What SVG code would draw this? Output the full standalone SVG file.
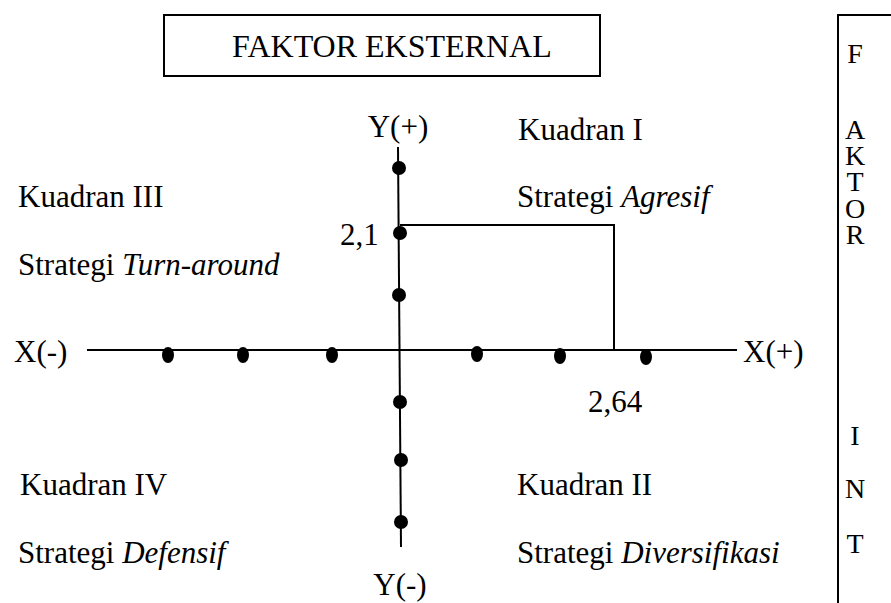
<svg xmlns="http://www.w3.org/2000/svg" width="891" height="603" viewBox="0 0 891 603">
<style>
text{font-family:"Liberation Serif",serif;font-size:31px;fill:#000}
.i{font-style:italic}
.t{font-size:32px}
.v{font-size:28px}
.ln{stroke:#000;stroke-width:2;fill:none}
.dot{fill:#000}
</style>
<rect width="891" height="603" fill="#fff"/>
<g id="ekstern">
<rect class="ln" x="164" y="15" width="436" height="61"/>
<text class="t" x="232" y="57">FAKTOR EKSTERNAL</text>
</g>
<g id="intern">
<path class="ln" d="M838,603 V15 H895"/>
<g text-anchor="middle">
<text class="v" x="855" y="63">F</text>
<text class="v" x="855" y="139">A</text>
<text class="v" x="855" y="165">K</text>
<text class="v" x="855" y="191">T</text>
<text class="v" x="855" y="218">O</text>
<text class="v" x="855" y="244">R</text>
<text class="v" x="855" y="445">I</text>
<text class="v" x="855" y="498">N</text>
<text class="v" x="855" y="553">T</text>
</g>
</g>
<g id="connectors">
<line class="ln" x1="87" y1="350" x2="737" y2="350"/>
<line class="ln" x1="398" y1="147" x2="401" y2="547"/>
<path class="ln" d="M400,225 H614 V350"/>
</g>
<g id="dots">
<circle class="dot" cx="399" cy="168" r="7"/>
<circle class="dot" cx="400" cy="233" r="7"/>
<circle class="dot" cx="399" cy="295" r="7"/>
<circle class="dot" cx="400" cy="402" r="7"/>
<circle class="dot" cx="401" cy="460" r="7"/>
<circle class="dot" cx="401" cy="522" r="7"/>
<ellipse class="dot" cx="168" cy="355" rx="6" ry="8"/>
<ellipse class="dot" cx="243" cy="355" rx="6" ry="8"/>
<ellipse class="dot" cx="332" cy="355" rx="6" ry="8"/>
<ellipse class="dot" cx="477" cy="354" rx="6" ry="8"/>
<ellipse class="dot" cx="560" cy="356" rx="6" ry="8"/>
<ellipse class="dot" cx="646" cy="357" rx="6" ry="8"/>
</g>
<g id="labels">
<text x="398" y="137" text-anchor="middle">Y(+)</text>
<text x="400" y="595" text-anchor="middle">Y(-)</text>
<text x="14" y="362">X(-)</text>
<text x="743" y="362">X(+)</text>
<text x="340" y="245">2,1</text>
<text x="588" y="412">2,64</text>
</g>
<g id="q1"><text x="518" y="140">Kuadran I</text><text x="517" y="207">Strategi <tspan class="i">Agresif</tspan></text></g>
<g id="q3"><text x="18" y="207">Kuadran III</text><text x="18" y="275">Strategi <tspan class="i">Turn-around</tspan></text></g>
<g id="q4"><text x="20" y="495">Kuadran IV</text><text x="18" y="563">Strategi <tspan class="i">Defensif</tspan></text></g>
<g id="q2"><text x="517" y="495">Kuadran II</text><text x="517" y="563">Strategi <tspan class="i">Diversifikasi</tspan></text></g>
</svg>
